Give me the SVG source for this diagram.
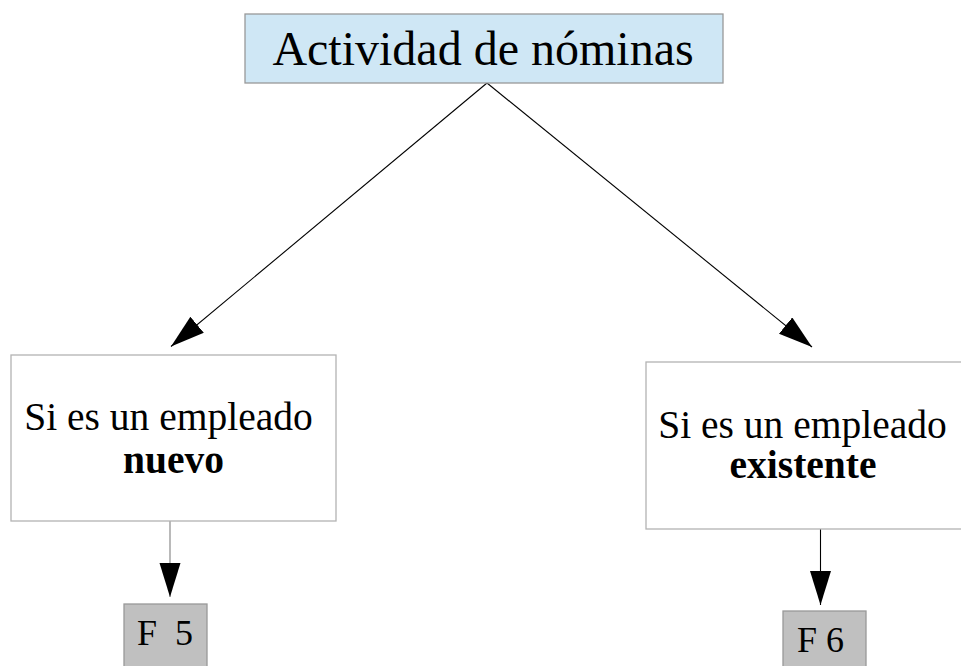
<svg xmlns="http://www.w3.org/2000/svg" width="961" height="666" viewBox="0 0 961 666">
<style>
.box{stroke:#b3b3b3;stroke-width:1.3}
.t{font-family:"Liberation Serif","Times New Roman",serif;fill:#000;text-anchor:middle}
.b{font-weight:bold}
.c{fill:none;stroke:#000;stroke-width:1.1}
</style>
<defs>
<marker id="ah" markerUnits="userSpaceOnUse" markerWidth="36" markerHeight="22" refX="34" refY="10.5" orient="auto" viewBox="0 0 36 22">
<path d="M0,0 L34,10.5 L0,21 Z" fill="#000"/>
</marker>
</defs>
<rect width="961" height="666" fill="#fff"/>
<g id="connectors">
<line class="c" x1="487" y1="83" x2="171" y2="346.5" marker-end="url(#ah)"/>
<line class="c" x1="487" y1="83" x2="812" y2="347" marker-end="url(#ah)"/>
<line class="c" x1="170" y1="521" x2="170" y2="597" stroke="#808080" style="stroke:#808080" marker-end="url(#ah)"/>
<line class="c" x1="820.5" y1="529" x2="820.5" y2="605" marker-end="url(#ah)"/>
</g>
<g id="root">
<rect class="box" x="245" y="14" width="478" height="69" fill="#cfe7f5" style="stroke:#999"/>
<text class="t" x="483" y="65" font-size="48">Actividad de nóminas</text>
</g>
<g id="nuevo">
<rect class="box" x="11" y="355" width="325" height="166" fill="#fff"/>
<text class="t" x="168.5" y="430" font-size="39.5">Si es un empleado</text>
<text class="t b" x="173.5" y="473" font-size="39.5">nuevo</text>
</g>
<g id="existente">
<rect class="box" x="646" y="362" width="320" height="167" fill="#fff"/>
<text class="t" x="802.5" y="438" font-size="39.5">Si es un empleado</text>
<text class="t b" x="803" y="478" font-size="39.5">existente</text>
</g>
<g id="f5">
<rect class="box" x="124" y="604" width="83" height="64" fill="#c0c0c0" style="stroke:#999"/>
<text class="t" x="165" y="645" font-size="36" xml:space="preserve">F  5</text>
</g>
<g id="f6">
<rect class="box" x="783" y="611" width="83" height="60" fill="#c0c0c0" style="stroke:#999"/>
<text class="t" x="820.5" y="652" font-size="36">F 6</text>
</g>
</svg>
